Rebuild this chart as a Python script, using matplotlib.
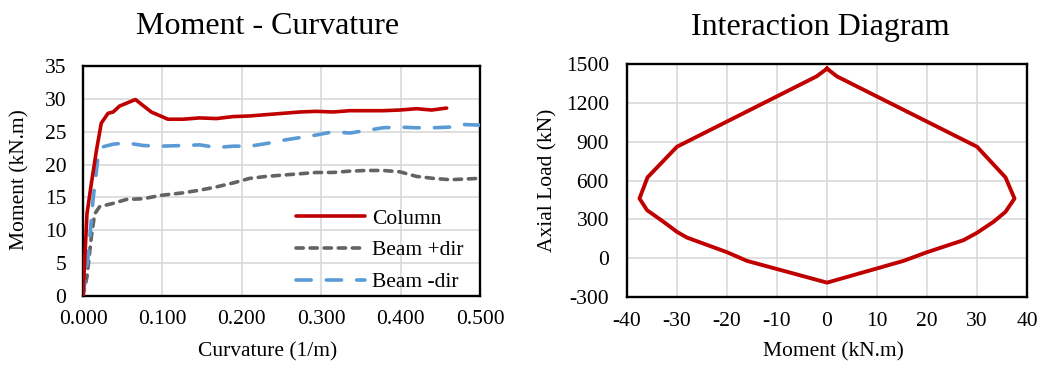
import matplotlib
matplotlib.use("Agg")
import matplotlib.pyplot as plt
from matplotlib.ticker import FormatStrFormatter, MultipleLocator

plt.rcParams['font.family'] = ['Liberation Serif', 'DejaVu Serif']
plt.rcParams['axes.unicode_minus'] = False

# ---- Moment - Curvature data ----
col_curv = [0.0, 0.005, 0.0105, 0.017, 0.023, 0.0315, 0.038, 0.046, 0.066, 0.086, 0.107,
            0.126, 0.147, 0.168, 0.189, 0.21, 0.231, 0.252, 0.273, 0.294, 0.315, 0.336,
            0.357, 0.378, 0.399, 0.42, 0.439, 0.458]
col_mom = [0.0, 12.5, 17.1, 22.2, 26.3, 27.8, 28.0, 28.9, 29.9, 28.0, 26.9,
           26.9, 27.1, 27.0, 27.3, 27.4, 27.6, 27.8, 28.0, 28.1, 28.0, 28.2,
           28.2, 28.2, 28.3, 28.5, 28.3, 28.6]

bneg_curv = [0.0, 0.0063, 0.0126, 0.019, 0.025, 0.038, 0.055, 0.076, 0.097, 0.126, 0.147,
             0.168, 0.189, 0.21, 0.231, 0.252, 0.273, 0.294, 0.315, 0.336, 0.357, 0.378,
             0.399, 0.42, 0.441, 0.462, 0.479, 0.5]
bneg_mom = [0.0, 5.9, 14.6, 21.2, 22.7, 23.1, 23.3, 22.9, 22.8, 22.9, 23.0,
            22.6, 22.8, 22.8, 23.2, 23.7, 24.1, 24.5, 25.0, 24.8, 25.2, 25.6,
            25.7, 25.6, 25.6, 25.7, 26.1, 26.0]

bpos_curv = [0.0, 0.005, 0.0105, 0.0147, 0.021, 0.038, 0.055, 0.076, 0.097, 0.126, 0.147,
             0.168, 0.189, 0.21, 0.231, 0.252, 0.273, 0.294, 0.315, 0.336, 0.357, 0.378,
             0.399, 0.42, 0.441, 0.462, 0.5]
bpos_mom = [0.0, 2.9, 9.0, 12.5, 13.6, 14.1, 14.7, 14.8, 15.3, 15.7, 16.1,
            16.6, 17.2, 17.9, 18.2, 18.4, 18.6, 18.8, 18.8, 19.0, 19.1, 19.1,
            18.9, 18.2, 17.9, 17.7, 17.9]

# ---- Interaction diagram data ----
pm_moment = [0.0, 2.0, 30.0, 35.7, 37.5, 35.7, 33.3, 30.0, 27.3, 20.0, 15.3, 0.0,
             -16.0, -20.0, -28.0, -30.0, -32.7, -36.0, -37.5, -35.9, -30.0, -2.1, 0.0]
pm_axial = [1464, 1404, 861, 624, 461, 358, 281, 196, 139, 46, -21, -189,
            -21, 46, 159, 203, 281, 371, 461, 624, 861, 1404, 1464]

W, H = 1041, 365
fig = plt.figure(figsize=(W / 100, H / 100), dpi=100)

FS = 15.5
grid_c = '#d9d9d9'

def style(ax):
    ax.grid(True, color=grid_c, linewidth=1.2)
    ax.set_axisbelow(True)
    for s in ax.spines.values():
        s.set_linewidth(1.7)
        s.set_color('black')
    ax.tick_params(length=0, labelsize=FS)

# Left axes
ax1 = fig.add_axes([83 / W, 69 / H, 397 / W, 230 / H])
style(ax1)
ax1.tick_params(axis='y', pad=12)
ax1.tick_params(axis='x', pad=10)
ax1.plot(col_curv, col_mom, color='#c00000', lw=2.6, label='Column', zorder=5,
         solid_joinstyle='round', solid_capstyle='round')
ax1.plot(bpos_curv, bpos_mom, color='#636363', lw=2.6, dashes=(2.0, 1.9),
         dash_capstyle='round', label='Beam +dir', zorder=3)
ax1.plot(bneg_curv, bneg_mom, color='#5b9bd5', lw=2.6, dashes=(4.2, 4.2),
         dash_capstyle='round', label='Beam -dir', zorder=4)
ax1.set_xlim(0, 0.5)
ax1.set_ylim(0, 35)
ax1.xaxis.set_major_locator(MultipleLocator(0.1))
ax1.yaxis.set_major_locator(MultipleLocator(5))
ax1.xaxis.set_major_formatter(FormatStrFormatter('%.3f'))
leg = ax1.legend(loc='lower right', frameon=False, fontsize=FS, handlelength=3.2,
                 handletextpad=0.3, labelspacing=0.55, borderpad=0,
                 bbox_to_anchor=(0.985, -0.031))

# Right axes
ax2 = fig.add_axes([627 / W, 68 / H, 400 / W, 233 / H])
style(ax2)
ax2.tick_params(axis='y', pad=13)
ax2.tick_params(axis='x', pad=11)
ax2.plot(pm_moment, pm_axial, color='#c00000', lw=2.8, solid_joinstyle='round')
ax2.set_xlim(-40, 40)
ax2.set_ylim(-300, 1500)
ax2.xaxis.set_major_locator(MultipleLocator(10))
ax2.yaxis.set_major_locator(MultipleLocator(300))

# Titles and labels
fig.text(268 / W, 1 - 27 / H, 'Moment - Curvature', ha='center', va='center', fontsize=23)
fig.text(820 / W, 1 - 27 / H, 'Interaction Diagram', ha='center', va='center', fontsize=23)
fig.text(268 / W, 1 - 352 / H, 'Curvature (1/m)', ha='center', va='center', fontsize=FS)
fig.text(833 / W, 1 - 352 / H, 'Moment (kN.m)', ha='center', va='center', fontsize=FS)
fig.text(20 / W, 1 - 180 / H, 'Moment (kN.m)', ha='center', va='center', fontsize=FS,
         rotation=90)
fig.text(548 / W, 1 - 180 / H, 'Axial Load (kN)', ha='center', va='center', fontsize=FS,
         rotation=90)

fig.savefig('out.png', dpi=100)
